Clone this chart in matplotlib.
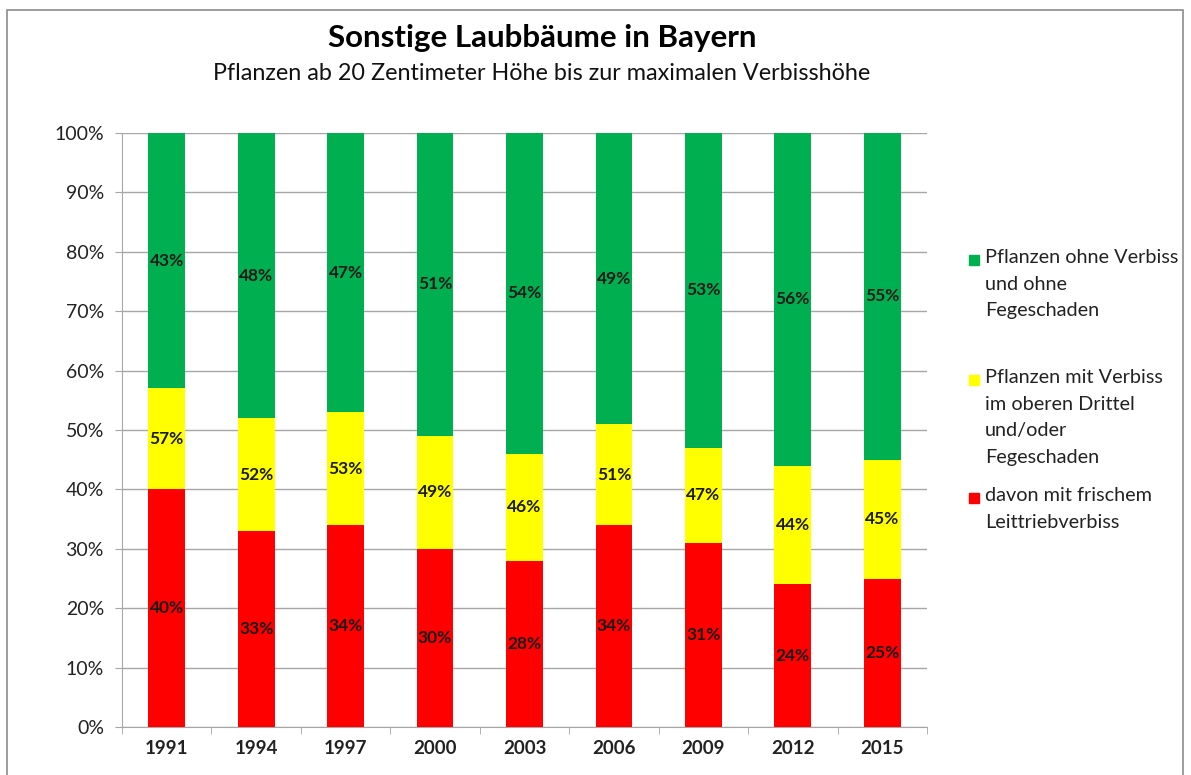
import matplotlib
matplotlib.use("Agg")
import matplotlib.pyplot as plt
from matplotlib.patches import Rectangle
import numpy as np

years = ["1991", "1994", "1997", "2000", "2003", "2006", "2009", "2012", "2015"]
leittrieb = [40, 33, 34, 30, 28, 34, 31, 24, 25]          # red
verbiss_total = [57, 52, 53, 49, 46, 51, 47, 44, 45]      # yellow top (label)
ohne_verbiss = [43, 48, 47, 51, 54, 49, 53, 56, 55]       # green

series_names = ["Pflanzen ohne Verbiss\nund ohne\nFegeschaden",
                "Pflanzen mit Verbiss\nim oberen Drittel\nund/oder\nFegeschaden",
                "davon mit frischem\nLeittriebverbiss"]
colors = ["#00B050", "#FFFF00", "#FF0000"]

plt.rcParams['font.family'] = ['Lato', 'DejaVu Sans']

W, H = 1191, 775
fig = plt.figure(figsize=(W/100, H/100), dpi=100)
ax = fig.add_axes([122/W, 1-727/H, (927-122)/W, (727-133)/H])

x = np.arange(len(years))
red = np.array(leittrieb)
yel = np.array(verbiss_total) - red
grn = np.array(ohne_verbiss)
bw = 0.41
ax.bar(x, red, bw, color=colors[2], zorder=3)
ax.bar(x, yel, bw, bottom=red, color=colors[1], zorder=3)
ax.bar(x, grn, bw, bottom=red + yel, color=colors[0], zorder=3)

lab_kw = dict(ha='center', va='center', fontsize=12.5, fontweight='bold', color='#1a1a1a', zorder=4)
for i in range(len(years)):
    ax.text(x[i], red[i] / 2, f"{leittrieb[i]}%", **lab_kw)
    ax.text(x[i], red[i] + yel[i] / 2, f"{verbiss_total[i]}%", **lab_kw)
    ax.text(x[i], red[i] + yel[i] + grn[i] / 2, f"{ohne_verbiss[i]}%", **lab_kw)

ax.set_xlim(-0.5, len(years) - 0.5)
ax.set_ylim(0, 100)
ax.set_yticks(np.arange(0, 101, 10))
ax.set_yticklabels([f"{v}%" for v in range(0, 101, 10)], fontsize=14, color='#222222')
ax.yaxis.grid(True, color='#A6A6A6', linewidth=1, zorder=0)
ax.set_xticks(x)
ax.set_xticklabels(years, fontsize=13.5, fontweight='bold', color='#222222')
ax.tick_params(axis='x', length=0, pad=9)
ax.set_xticks(np.arange(-0.5, len(years), 1), minor=True)
ax.tick_params(axis='x', which='minor', length=5, color='#A6A6A6')
ax.tick_params(axis='y', length=5, color='#A6A6A6', pad=8)
for s in ['top', 'right']:
    ax.spines[s].set_visible(False)
for s in ['left', 'bottom']:
    ax.spines[s].set_color('#A6A6A6')

# Titles
fig.text(542/W, 1-38/H, "Sonstige Laubbäume in Bayern", ha='center', va='center',
         fontsize=22.5, fontweight='bold', color='black')
fig.text(542/W, 1-73/H, "Pflanzen ab 20 Zentimeter Höhe bis zur maximalen Verbisshöhe",
         ha='center', va='center', fontsize=16.8, color='#111111')

# Legend (manual)
leg_y = [260, 380, 498]
for name, c, yy in zip(series_names, colors, leg_y):
    fig.patches.append(Rectangle((969/W, 1-(yy+5)/H), 10/W, 10/H,
                                 transform=fig.transFigure, color=c, figure=fig))
    fig.text(985/W, 1-(yy - 11)/H, name, ha='left', va='top', fontsize=14.3,
             color='#222222', linespacing=1.69)

# Outer frame
fig.patches.append(Rectangle((7/W, -0.05), (1183-7)/W, 1.05 - 10/H, transform=fig.transFigure,
                             fill=False, edgecolor='#8c8c8c', linewidth=1.2, figure=fig))

fig.savefig("out.png", dpi=100)
